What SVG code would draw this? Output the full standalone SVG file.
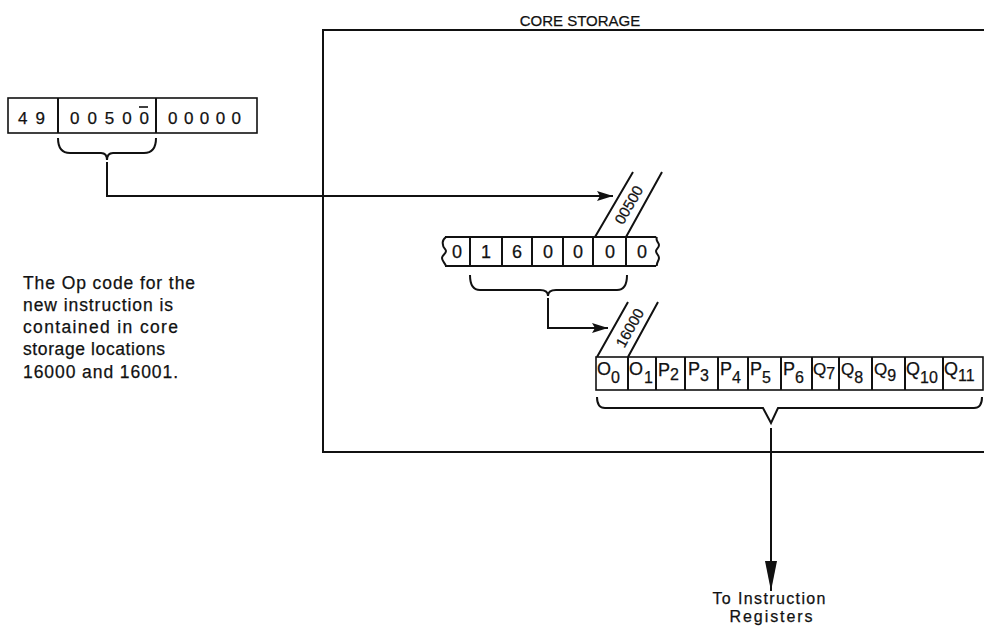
<svg xmlns="http://www.w3.org/2000/svg" width="984" height="631" viewBox="0 0 984 631">
<defs>
<style>
.ln{fill:none;stroke:#111;stroke-width:2}
.bx{fill:#fff;stroke:#111;stroke-width:1.6}
.t{font-family:"Liberation Sans",Arial,sans-serif;fill:#111;stroke:#111;stroke-width:0.25}
.d{font-size:18px;text-anchor:middle}
.m{font-size:18px}
.q{font-size:17px}
.s{font-size:16px}
.lbl{font-size:16px}
</style>
<marker id="ah" viewBox="0 0 16 10" refX="16" refY="5" markerWidth="16" markerHeight="10" markerUnits="userSpaceOnUse" orient="auto">
<path d="M0,0 L16,5 L0,10 L3,5 Z" fill="#111"/>
</marker>
<marker id="ahd" viewBox="0 0 30 12" refX="30" refY="6" markerWidth="30" markerHeight="12" markerUnits="userSpaceOnUse" orient="auto">
<path d="M0,0 L30,6 L0,12 Z" fill="#111"/>
</marker>
</defs>
<rect width="984" height="631" fill="#fff"/>

<g id="core-storage">
<path class="ln" d="M986,30 H323 V452 H986" stroke-width="1.8"/>
<text class="t" x="580" y="26" font-size="15" text-anchor="middle">CORE STORAGE</text>
</g>

<g id="instruction">
<rect class="bx" x="8" y="98" width="249" height="35"/>
<line class="ln" x1="58" y1="98" x2="58" y2="133" stroke-width="1.6"/>
<line class="ln" x1="156" y1="98" x2="156" y2="133" stroke-width="1.6"/>
<text class="t" x="18" y="124" font-size="17" textLength="27" lengthAdjust="spacing">49</text>
<text class="t" x="70" y="124" font-size="17" textLength="79" lengthAdjust="spacing">00500</text>
<line x1="139" y1="107" x2="148" y2="107" stroke="#111" stroke-width="1.6"/>
<text class="t" x="168" y="124" font-size="17" textLength="73" lengthAdjust="spacing">00000</text>
</g>

<g id="note">
<text class="t" font-size="17.5">
<tspan x="23" y="289" textLength="172" lengthAdjust="spacing">The Op code for the</tspan>
<tspan x="23" y="311" textLength="150" lengthAdjust="spacing">new instruction is</tspan>
<tspan x="23" y="333" textLength="155" lengthAdjust="spacing">contained in core</tspan>
<tspan x="23" y="355" textLength="142" lengthAdjust="spacing">storage locations</tspan>
<tspan x="23" y="378" textLength="155" lengthAdjust="spacing">16000 and 16001.</tspan>
</text>
</g>

<g id="location-00500">
<path class="ln" d="M595,237 L633,172 M626,237 L662,172" stroke-width="1.6"/>
<text class="t" x="629" y="210" font-size="15" text-anchor="middle" transform="rotate(-60 629 205)">00500</text>
<path class="ln" stroke-width="1.6" d="M445,237 H656 M445,266 H656"/>
<path class="ln" stroke-width="1.6" d="M446,237 c-5,4 -3,6 -3,8 c0,3 3,4 3,6 c0,3 -4,4 -4,7 c0,3 3,5 4,8"/>
<path class="ln" stroke-width="1.6" d="M657,237 c-2,4 2,5 2,8 c0,3 -3,4 -3,6 c0,3 3,4 3,7 c0,3 -3,5 -2,8"/>
<path class="ln" stroke-width="1.6" d="M470,237 V266 M502,237 V266 M532,237 V266 M563,237 V266 M593,237 V266 M626,237 V266"/>
<text class="t d" y="258"><tspan x="457">0</tspan><tspan x="486">1</tspan><tspan x="517">6</tspan><tspan x="548">0</tspan><tspan x="578">0</tspan><tspan x="610">0</tspan><tspan x="642">0</tspan></text>
</g>

<g id="location-16000">
<path class="ln" d="M597,357 L628,302 M628,357 L658,302" stroke-width="1.6"/>
<text class="t" x="630" y="333" font-size="15" text-anchor="middle" transform="rotate(-61 630 328)">16000</text>
<rect class="bx" x="596" y="357" width="387" height="33"/>
<path class="ln" stroke-width="1.6" d="M628,357 V390 M656,357 V390 M685,357 V390 M718,357 V390 M748,357 V390 M781,357 V390 M812,357 V390 M839,357 V390 M872,357 V390 M905,357 V390 M943,357 V390"/>
<g class="t">
<text x="597" y="375" class="m">O<tspan class="s" dy="8">0</tspan></text>
<text x="629" y="375" class="m">O<tspan class="s" dy="8" dx="1">1</tspan></text>
<text x="658" y="376" class="m">P<tspan class="s" dy="4">2</tspan></text>
<text x="688" y="375" class="m">P<tspan class="s" dy="6">3</tspan></text>
<text x="720" y="375" class="m">P<tspan class="s" dy="8">4</tspan></text>
<text x="750" y="375" class="m">P<tspan class="s" dy="8">5</tspan></text>
<text x="783" y="375" class="m">P<tspan class="s" dy="8">6</tspan></text>
<text x="813" y="375" class="q">Q<tspan class="s" dy="4">7</tspan></text>
<text x="841" y="375" class="q">Q<tspan class="s" dy="8">8</tspan></text>
<text x="874" y="375" class="q">Q<tspan class="s" dy="6">9</tspan></text>
<text x="906" y="375" class="m">Q<tspan class="s" dy="8">10</tspan></text>
<text x="944" y="375" class="m">Q<tspan class="s" dy="6">11</tspan></text>
</g>
</g>

<g id="destination">
<text class="t lbl" text-anchor="middle"><tspan x="769" y="604" textLength="113" lengthAdjust="spacing">To Instruction</tspan><tspan x="771" y="622" textLength="83" lengthAdjust="spacing">Registers</tspan></text>
</g>

<g id="connectors">
<path class="ln" d="M58,138 q0,15 12,15 H101 q6,0 6,7 q0,-7 6,-7 H144 q12,0 12,-15"/>
<path class="ln" d="M107,162 V196 H613" marker-end="url(#ah)"/>
<path class="ln" d="M470,275 q0,15 10,15 H540 q8,0 8,6 q0,-6 8,-6 H617 q10,0 10,-15"/>
<path class="ln" d="M548,298 V328 H608" marker-end="url(#ah)"/>
<path class="ln" d="M597,397 q0,11 8,11 H763 L771,423 L778,408 H974 q8,0 8,-11"/>
<path class="ln" d="M771,428 V591" marker-end="url(#ahd)"/>
</g>
</svg>
